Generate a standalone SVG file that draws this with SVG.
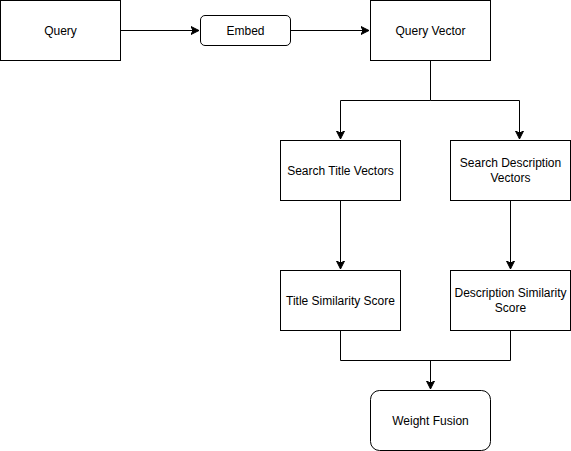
<svg xmlns="http://www.w3.org/2000/svg" width="571" height="451" viewBox="0 0 571 451">
<style>
.n{fill:#fff;stroke:#000;stroke-width:1}
.t{font-family:"Liberation Sans",Arial,sans-serif;font-size:12px;fill:#000;text-anchor:middle}
.c{fill:none;stroke:#000;stroke-width:1}
</style>
<defs>
<marker id="a" markerUnits="userSpaceOnUse" markerWidth="10" markerHeight="10" refX="8" refY="4" orient="auto" viewBox="0 0 10 8">
<path d="M0,0 L8,4 L0,8 L2,4 Z" fill="#000" stroke="#000" stroke-width="1"/>
</marker>
</defs>
<rect width="571" height="451" fill="#fff"/>
<g id="connectors">
<path class="c" d="M120.5,30.5 H199" marker-end="url(#a)"/>
<path class="c" d="M290.5,30.5 H369" marker-end="url(#a)"/>
<path class="c" d="M430.5,60.5 V100.5 H340.5 V139" marker-end="url(#a)"/>
<path class="c" d="M430.5,100.5 H519.5 V139" marker-end="url(#a)"/>
<path class="c" d="M340.5,200.5 V269" marker-end="url(#a)"/>
<path class="c" d="M510.5,200.5 V269" marker-end="url(#a)"/>
<path class="c" d="M340.5,330.5 V360.5 H510.5 V330.5"/>
<path class="c" d="M430.5,360.5 V389" marker-end="url(#a)"/>
</g>
<g id="query"><rect class="n" x="0.5" y="0.5" width="120" height="60"/><text class="t" x="60.5" y="34.5">Query</text></g>
<g id="embed"><rect class="n" x="200.5" y="15.5" width="90" height="30" rx="4.5"/><text class="t" x="245.5" y="34.5">Embed</text></g>
<g id="query-vector"><rect class="n" x="370.5" y="0.5" width="120" height="60"/><text class="t" x="430.5" y="34.5">Query Vector</text></g>
<g id="search-title"><rect class="n" x="280.5" y="140.5" width="120" height="60"/><text class="t" x="340.5" y="174.5">Search Title Vectors</text></g>
<g id="search-desc"><rect class="n" x="450.5" y="140.5" width="120" height="60"/><text class="t" x="510.5" y="167">Search Description</text><text class="t" x="510.5" y="182">Vectors</text></g>
<g id="title-sim"><rect class="n" x="280.5" y="270.5" width="120" height="60"/><text class="t" x="340.5" y="304.5">Title Similarity Score</text></g>
<g id="desc-sim"><rect class="n" x="450.5" y="270.5" width="120" height="60"/><text class="t" x="510.5" y="297">Description Similarity</text><text class="t" x="510.5" y="312">Score</text></g>
<g id="weight-fusion"><rect class="n" x="370.5" y="390.5" width="120" height="60" rx="9"/><text class="t" x="430.5" y="424.5">Weight Fusion</text></g>
</svg>
